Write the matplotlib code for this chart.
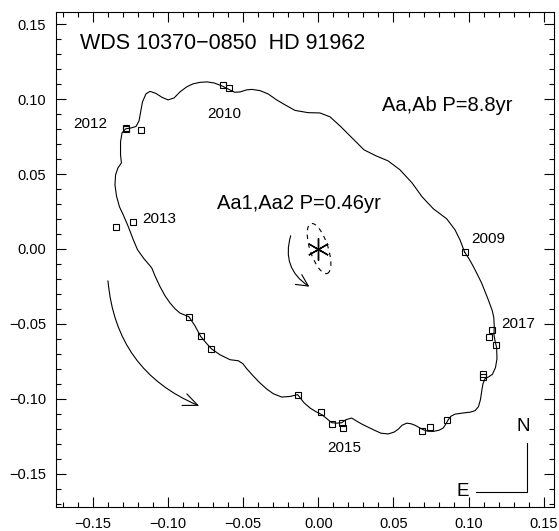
import matplotlib
matplotlib.use("Agg")
import matplotlib.pyplot as plt
from matplotlib.patches import Ellipse, FancyArrowPatch
from matplotlib.ticker import FuncFormatter
import numpy as np

plt.rcParams['font.family'] = ['Liberation Sans', 'DejaVu Sans']

# outer orbit (Aa,Ab) with the wobble of the inner pair
orbit_x = [0.0973, 0.0942, 0.0909, 0.0854, 0.0765, 0.0690, 0.0623, 0.0543, 0.0463, 0.0384,
           0.0304, 0.0224, 0.0144, 0.0078, 0.0011, -0.0068, -0.0155, -0.0221, -0.0277, -0.0334,
           -0.0388, -0.0441, -0.0476, -0.0521, -0.0556, -0.0594, -0.0640, -0.0693, -0.0740, -0.0787,
           -0.0833, -0.0875, -0.0920, -0.0959, -0.0999, -0.1039, -0.1079, -0.1119, -0.1146, -0.1169,
           -0.1182, -0.1192, -0.1212, -0.1245, -0.1281, -0.1305, -0.1315, -0.1315, -0.1309, -0.1332,
           -0.1348, -0.1352, -0.1342, -0.1322, -0.1297, -0.1263, -0.1230, -0.1202, -0.1159, -0.1119,
           -0.1106, -0.1086, -0.1053, -0.1019, -0.0986, -0.0953, -0.0920, -0.0860, -0.0820, -0.0782,
           -0.0747, -0.0711, -0.0654, -0.0587, -0.0532, -0.0501, -0.0476, -0.0434, -0.0388, -0.0341,
           -0.0299, -0.0243, -0.0188, -0.0137, -0.0095, -0.0055, -0.0015, 0.0025, 0.0089, 0.0124,
           0.0156, 0.0184, 0.0222, 0.0251, 0.0291, 0.0366, 0.0417, 0.0465, 0.0503, 0.0532,
           0.0557, 0.0588, 0.0616, 0.0643, 0.0698, 0.0729, 0.0765, 0.0803, 0.0831, 0.0849,
           0.0864, 0.0882, 0.0909, 0.0964, 0.1009, 0.1042, 0.1065, 0.1078, 0.1088, 0.1095,
           0.1108, 0.1135, 0.1158, 0.1178, 0.1188, 0.1186, 0.1175, 0.1168, 0.1170, 0.1167,
           0.1157, 0.1130, 0.1108, 0.1086, 0.1059, 0.1031, 0.1002, 0.0973]
orbit_y = [-0.0021, 0.0061, 0.0128, 0.0201, 0.0268, 0.0348, 0.0441, 0.0528, 0.0588, 0.0621,
           0.0661, 0.0741, 0.0821, 0.0881, 0.0907, 0.0909, 0.0924, 0.0961, 0.0994, 0.1034,
           0.1056, 0.1064, 0.1061, 0.1047, 0.1045, 0.1064, 0.1087, 0.1107, 0.1114, 0.1111,
           0.1101, 0.1081, 0.1047, 0.1007, 0.0994, 0.1011, 0.1037, 0.1051, 0.1034, 0.0981,
           0.0907, 0.0854, 0.0817, 0.0807, 0.0801, 0.0774, 0.0714, 0.0628, 0.0574, 0.0541,
           0.0494, 0.0428, 0.0354, 0.0281, 0.0228, 0.0148, 0.0061, -0.0005, -0.0065, -0.0112,
           -0.0129, -0.0179, -0.0250, -0.0312, -0.0360, -0.0398, -0.0427, -0.0452, -0.0512, -0.0583,
           -0.0625, -0.0665, -0.0705, -0.0738, -0.0745, -0.0765, -0.0798, -0.0845, -0.0893, -0.0935,
           -0.0965, -0.0987, -0.0983, -0.0971, -0.1025, -0.1060, -0.1085, -0.1105, -0.1158, -0.1161,
           -0.1158, -0.1138, -0.1127, -0.1145, -0.1168, -0.1205, -0.1228, -0.1233, -0.1221, -0.1201,
           -0.1175, -0.1161, -0.1165, -0.1175, -0.1205, -0.1215, -0.1216, -0.1208, -0.1193, -0.1165,
           -0.1138, -0.1115, -0.1101, -0.1093, -0.1088, -0.1078, -0.1051, -0.1005, -0.0938, -0.0898,
           -0.0865, -0.0851, -0.0835, -0.0791, -0.0732, -0.0658, -0.0612, -0.0572, -0.0518, -0.0458,
           -0.0412, -0.0338, -0.0282, -0.0227, -0.0172, -0.0117, -0.0065, -0.0021]

# measured positions
obs_x = [-0.0632, -0.0594, -0.1280, -0.1277, -0.1180, -0.1343, -0.1232, -0.0860, -0.0782, -0.0711,
         -0.0137, 0.0018, 0.0091, 0.0155, 0.0164, 0.0690, 0.0745, 0.0858, 0.1095, 0.1097,
         0.1135, 0.1153, 0.1180, 0.0973]
obs_y = [0.1092, 0.1076, 0.0799, 0.0805, 0.0792, 0.0148, 0.0177, -0.0452, -0.0583, -0.0665,
         -0.0971, -0.1087, -0.1165, -0.1160, -0.1191, -0.1211, -0.1189, -0.1138, -0.0836, -0.0851,
         -0.0585, -0.0538, -0.0640, -0.0021]

year_labels = ['2012', '2010', '2013', '2009', '2017', '2015']
year_x = [-0.1518, -0.0624, -0.1056, 0.1130, 0.1328, 0.0170]
year_y = [0.0834, 0.0901, 0.0201, 0.0065, -0.0498, -0.1324]

fig = plt.figure(figsize=(5.59, 5.31), dpi=100)
ax = fig.add_axes([0.1002, 0.0452, 0.8908, 0.9322])

ax.plot(orbit_x, orbit_y, color='k', lw=0.8)
ax.plot(obs_x, obs_y, 's', ms=4.2, mfc='none', mec='k', mew=0.8)

# inner orbit Aa1,Aa2
ax.add_patch(Ellipse((0.0005, 0.0003), 0.012, 0.035, angle=18, fill=False,
                     ec='k', lw=0.8, ls=(0, (4, 4))))
ax.plot([0], [0], marker=(6, 2, 0), ms=16, mew=1.0, color='k')

# direction of motion
ax.add_patch(FancyArrowPatch((-0.0178, 0.0106), (-0.0044, -0.0261),
                             connectionstyle='arc3,rad=0.4',
                             arrowstyle='->,head_length=0.6,head_width=0.3',
                             mutation_scale=14, lw=0.8, color='k'))
ax.add_patch(FancyArrowPatch((-0.140, -0.0194), (-0.0775, -0.1053),
                             connectionstyle='arc3,rad=0.31',
                             arrowstyle='->,head_length=0.7,head_width=0.3',
                             mutation_scale=15, lw=0.8, color='k'))

ax.text(-0.1584, 0.137, 'WDS 10370\u22120850  HD 91962', fontsize=15.5, va='center', ha='left')
ax.text(0.0423, 0.096, 'Aa,Ab P=8.8yr', fontsize=14.5, va='center', ha='left')
ax.text(-0.0674, 0.0301, 'Aa1,Aa2 P=0.46yr', fontsize=14.5, va='center', ha='left')
for lab, xx, yy in zip(year_labels, year_x, year_y):
    ax.text(xx, yy, lab, fontsize=11, ha='center', va='center')

# N / E indicator
ax.plot([0.1386, 0.1386, 0.1049], [-0.1293, -0.162, -0.162], color='k', lw=0.8)
ax.text(0.1363, -0.1183, 'N', fontsize=13.5, ha='center', va='center')
ax.text(0.0959, -0.1616, 'E', fontsize=13.5, ha='center', va='center')

ax.set_xlim(-0.1744, 0.1567)
ax.set_ylim(-0.172, 0.158)
ax.set_xticks(np.arange(-0.15, 0.151, 0.05))
ax.set_yticks(np.arange(-0.15, 0.151, 0.05))
ax.set_xticks(np.arange(-0.17, 0.156, 0.01), minor=True)
ax.set_yticks(np.arange(-0.17, 0.156, 0.01), minor=True)
fmt = FuncFormatter(lambda v, p: ('%.2f' % v).replace('-', '\u2212'))
ax.xaxis.set_major_formatter(fmt)
ax.yaxis.set_major_formatter(fmt)
ax.tick_params(which='both', direction='in', top=True, right=True, width=0.8, labelsize=10.5, pad=7)
ax.tick_params(which='major', length=7)
ax.tick_params(which='minor', length=3.5)
for sp in ax.spines.values():
    sp.set_linewidth(0.8)

fig.savefig('out.png', dpi=100)
